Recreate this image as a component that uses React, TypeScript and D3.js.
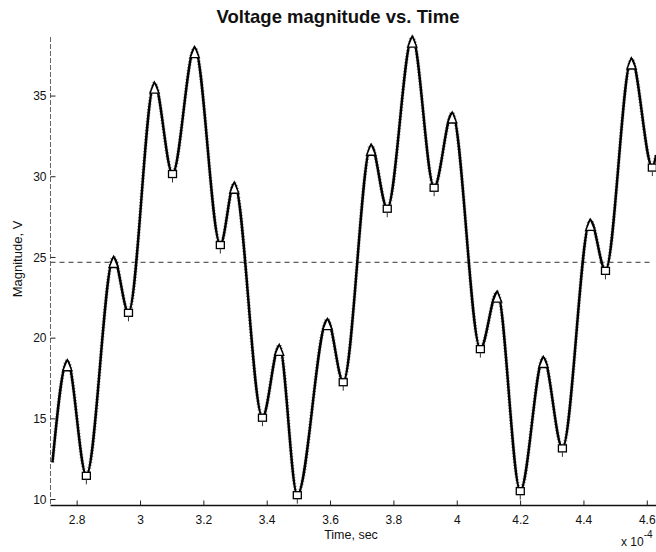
import React from "react";
import * as d3 from "d3";

// Time samples (x 10^-4 s) at the turning points of the measured magnitude
const timeSamples = [
  2.722, 2.769, 2.829, 2.915, 2.962, 3.044, 3.101, 3.171, 3.252, 3.296,
  3.385, 3.438, 3.495, 3.59, 3.64, 3.728, 3.779, 3.858, 3.927, 3.984,
  4.073, 4.126, 4.199, 4.272, 4.332, 4.42, 4.468, 4.55, 4.616, 4.628,
];

// Voltage magnitude (V) at those instants
const magnitudeSamples = [
  12.3, 18.6, 11.5, 25.0, 21.6, 35.8, 30.2, 38.0, 25.8, 29.6,
  15.1, 19.55, 10.3, 21.15, 17.3, 31.95, 28.05, 38.65, 29.35, 33.95,
  19.35, 22.85, 10.55, 18.8, 13.2, 27.3, 24.2, 37.3, 30.6, 31.35,
];

// Average magnitude over the window
const meanMagnitude = [24.7];

const xTickValues = [2.8, 3, 3.2, 3.4, 3.6, 3.8, 4, 4.2, 4.4, 4.6];
const xTickLabels = ["2.8", "3", "3.2", "3.4", "3.6", "3.8", "4", "4.2", "4.4", "4.6"];
const yTickValues = [10, 15, 20, 25, 30, 35];

const W = 656;
const H = 552;
const plot = { left: 50.5, right: 656, top: 37, bottom: 505.5 };
const FONT = "'Liberation Sans', Arial, Helvetica, sans-serif";

export default function App() {
  const x = d3.scaleLinear().domain([2.7158, 4.6275]).range([plot.left, plot.right]);
  const y = d3.scaleLinear().domain([9.63, 38.66]).range([plot.bottom, plot.top]);

  const pts = timeSamples.map((t, i) => [t, magnitudeSamples[i]] as [number, number]);
  const line = d3
    .line<[number, number]>()
    .x((d) => x(d[0]))
    .y((d) => y(d[1]))
    .curve(d3.curveMonotoneX);

  const peaks: [number, number][] = [];
  const troughs: [number, number][] = [];
  for (let i = 1; i < pts.length - 1; i++) {
    const [a, b, c] = [pts[i - 1][1], pts[i][1], pts[i + 1][1]];
    if (b > a && b > c) peaks.push(pts[i]);
    if (b < a && b < c) troughs.push(pts[i]);
  }

  const meanY = y(meanMagnitude[0]);

  return (
    <svg
      width={W}
      height={H}
      style={{ position: "absolute", left: 0, top: 0, background: "#fff" }}
      fontFamily={FONT}
    >
      <defs>
        <clipPath id="plotClip">
          <rect x={plot.left} y={plot.top - 6} width={plot.right - plot.left} height={plot.bottom - plot.top + 6} />
        </clipPath>
      </defs>

      {/* title */}
      <text x={338} y={23} textAnchor="middle" fontSize={18.5} fontWeight="bold" fill="#111">
        Voltage magnitude vs. Time
      </text>

      {/* y axis */}
      <line x1={plot.left} x2={plot.left} y1={plot.top} y2={plot.bottom} stroke="#666" strokeWidth={1} strokeDasharray="5,2" />
      {yTickValues.map((v) => (
        <g key={v}>
          <line x1={plot.left} x2={plot.left + 5} y1={y(v)} y2={y(v)} stroke="#222" strokeWidth={1} />
          <text x={plot.left - 4} y={y(v)} dy="0.35em" textAnchor="end" fontSize={12} fill="#111">
            {v}
          </text>
        </g>
      ))}

      {/* x axis */}
      <line x1={plot.left} x2={plot.right} y1={plot.bottom} y2={plot.bottom} stroke="#111" strokeWidth={1.3} />
      {xTickValues.map((v, i) => (
        <g key={v}>
          <line x1={x(v)} x2={x(v)} y1={plot.bottom} y2={plot.bottom - 5} stroke="#222" strokeWidth={1} />
          <text x={x(v)} y={524} textAnchor="middle" fontSize={12} fill="#111">
            {xTickLabels[i]}
          </text>
        </g>
      ))}

      {/* axis labels */}
      <text x={351} y={539} textAnchor="middle" fontSize={12.5} fill="#111">
        Time, sec
      </text>
      <text
        transform={`translate(22, ${259}) rotate(-90)`}
        textAnchor="middle"
        fontSize={13}
        fill="#111"
      >
        Magnitude, V
      </text>
      <text x={621} y={546} fontSize={12} fill="#111">
        x 10
        <tspan dy={-8} fontSize={10}>-4</tspan>
      </text>

      <g clipPath="url(#plotClip)">
        {/* mean level */}
        <line
          x1={plot.left}
          x2={650}
          y1={meanY}
          y2={meanY}
          stroke="#333"
          strokeWidth={1}
          strokeDasharray="5,4"
        />

        {/* magnitude curve */}
        <path d={line(pts) ?? ""} fill="none" stroke="#999" strokeWidth={4} strokeDasharray="1,2" />
        <path d={line(pts) ?? ""} fill="none" stroke="#000" strokeWidth={2.5} strokeLinejoin="round" />

        {/* peak markers */}
        {peaks.map(([t, v], i) => {
          const cx = x(t);
          const cy = y(v);
          return (
            <path
              key={"p" + i}
              d={`M${cx},${cy - 1} L${cx + 4.5},${cy + 10} L${cx - 4.5},${cy + 10} Z`}
              fill="#fff"
              stroke="#000"
              strokeWidth={1.4}
            />
          );
        })}

        {/* trough markers */}
        {troughs.map(([t, v], i) => {
          const cx = x(t);
          const cy = y(v);
          return (
            <g key={"t" + i}>
              <rect x={cx - 4} y={cy - 3} width={8} height={7} fill="#fff" stroke="#000" strokeWidth={1.3} />
              <line x1={cx} x2={cx} y1={cy + 4} y2={cy + 9} stroke="#333" strokeWidth={1} />
            </g>
          );
        })}
      </g>
    </svg>
  );
}
